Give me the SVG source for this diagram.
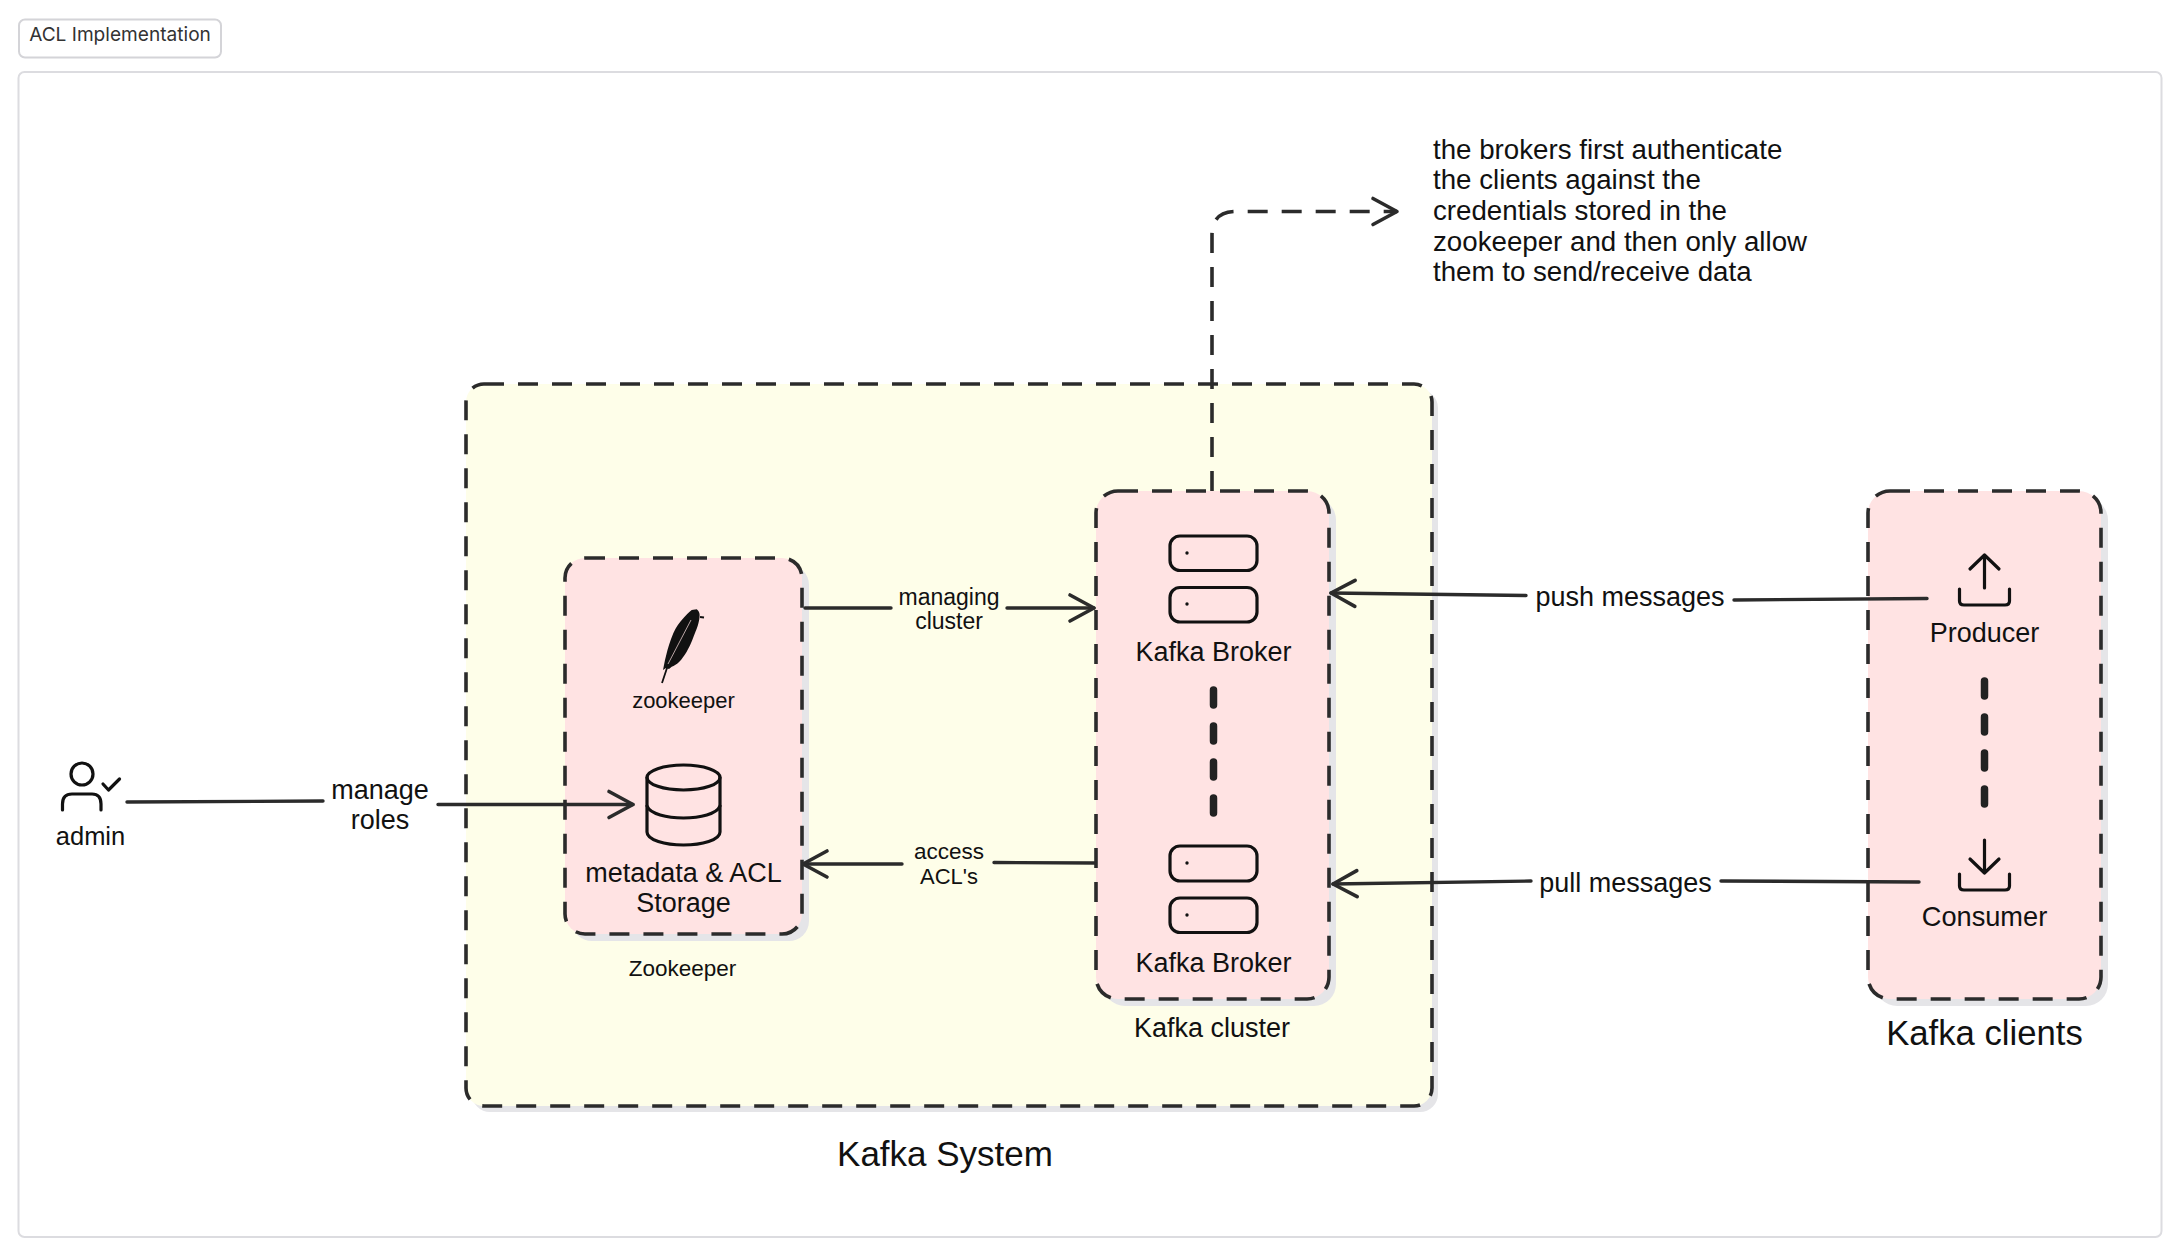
<svg xmlns="http://www.w3.org/2000/svg" width="2182" height="1256" viewBox="0 0 2182 1256">
<style>
text{font-family:"Liberation Sans",Arial,sans-serif;fill:#111;text-anchor:middle}
.shadow{fill:#e5e5e8}
.yellow{fill:#fefee9}
.pink{fill:#ffe3e3}
.dash{fill:none;stroke:#2b2b2b;stroke-width:3.6;stroke-dasharray:20 14;stroke-linecap:butt}
.ln{fill:none;stroke:#2b2b2b;stroke-width:3.4;stroke-linecap:round;stroke-linejoin:round}
.ico{fill:none;stroke:#111;stroke-width:3.2;stroke-linecap:round;stroke-linejoin:round}
.thick{fill:none;stroke:#222;stroke-width:7.500;stroke-dasharray:15 21;stroke-linecap:round}
.dot{fill:#111}
</style>
<defs>
<marker id="open" markerUnits="userSpaceOnUse" markerWidth="32" markerHeight="34" refX="28" refY="17" orient="auto" overflow="visible">
<path d="M4 4 L28 17 L4 30" fill="none" stroke="#2b2b2b" stroke-width="3.6" stroke-linecap="round" stroke-linejoin="round"/>
</marker>
</defs>
<rect width="2182" height="1256" fill="#fff"/>
<g id="title">
<rect x="19" y="19.500" width="202" height="38" rx="6" fill="#fff" stroke="#d4d4d8" stroke-width="2"/>
<text x="120" y="41" style="font-family:Inter,'Liberation Sans',sans-serif;fill:#333" font-size="19.100">ACL Implementation</text>
</g>
<rect id="frame" x="18.500" y="72" width="2143" height="1165" rx="6" fill="#fff" stroke="#dcdce0" stroke-width="2"/>

<g id="kafka-system">
<rect class="shadow" x="472" y="390" width="966" height="722" rx="18"/>
<rect class="yellow" x="466" y="384" width="966" height="722" rx="18"/>
<rect class="dash" x="466" y="384" width="966" height="722" rx="18"/>
<text x="945" y="1166" font-size="35">Kafka System</text>
</g>

<g id="zookeeper">
<rect class="shadow" x="572" y="565" width="237" height="376" rx="20"/>
<rect class="pink" x="565" y="558" width="237" height="376" rx="20"/>
<rect class="dash" x="565" y="558" width="237" height="376" rx="20"/>
<g id="feather">
<path class="dot" d="M696.700 609.300 C700 612 700 615 699.300 619 C698 626 697 628 695 633 C692 641 690 646 686.700 651.700 C684 656 682 659 679.300 661.700 C677 664 674 666 671.700 666.700 L669 669 L666 668 L663 670 L664 665 L665 660 L666 656 C668 648 670 641 673.300 633.300 C676 627 679 623 683.300 618.300 C686 615 689 612 691.700 610 Z"/>
<path d="M662 683 L668 665" fill="none" stroke="#111" stroke-width="1.800"/>
<path d="M668 664 L691 620" fill="none" stroke="#ffe3e3" stroke-width="0.700"/>
<path d="M700 617 L704 617.500" fill="none" stroke="#111" stroke-width="2"/>
</g>
<text x="683.500" y="707.500" font-size="22">zookeeper</text>
<g id="database" class="ico">
<ellipse cx="683.500" cy="777.500" rx="36.500" ry="12.500"/>
<path d="M647 777.500 V832 C647 840 665 845 683.500 845 C702 845 720 840 720 832 V777.500"/>
<path d="M647 806 C650 814 667 818 683.500 818 C700 818 717 814 720 806"/>
</g>
<text x="683.500" y="882" font-size="27">metadata &amp; ACL</text>
<text x="683.500" y="912" font-size="27">Storage</text>
<text x="682.500" y="976" font-size="22.500">Zookeeper</text>
</g>

<g id="kafka-cluster">
<rect class="shadow" x="1103" y="498" width="233" height="508" rx="22"/>
<rect class="pink" x="1096" y="491" width="233" height="508" rx="22"/>
<rect class="dash" x="1096" y="491" width="233" height="508" rx="22"/>
<g class="ico">
<rect x="1170" y="536" width="87" height="34.500" rx="10"/>
<rect x="1170" y="587.500" width="87" height="34.500" rx="10"/>
<rect x="1170" y="846" width="87" height="35" rx="10"/>
<rect x="1170" y="898" width="87" height="34.500" rx="10"/>
</g>
<circle class="dot" cx="1187" cy="553" r="1.700"/>
<circle class="dot" cx="1187" cy="604" r="1.700"/>
<circle class="dot" cx="1187" cy="863" r="1.700"/>
<circle class="dot" cx="1187" cy="915" r="1.700"/>
<text x="1213.500" y="661" font-size="27">Kafka Broker</text>
<path class="thick" d="M1213.500 690 V816"/>
<text x="1213.500" y="971.500" font-size="27">Kafka Broker</text>
<text x="1212" y="1037" font-size="27">Kafka cluster</text>
</g>

<g id="kafka-clients">
<rect class="shadow" x="1875" y="498" width="233" height="508" rx="22"/>
<rect class="pink" x="1868" y="491" width="233" height="508" rx="22"/>
<rect class="dash" x="1868" y="491" width="233" height="508" rx="22"/>
<g id="producer-icon" class="ico">
<path d="M1984.500 588 V555 M1970 569 L1984.500 555 L1999 569"/>
<path d="M1959.500 589 V601 Q1959.500 605 1964 605 H2005 Q2009.500 605 2009.500 601 V589"/>
</g>
<text x="1984.500" y="641.500" font-size="27">Producer</text>
<path class="thick" d="M1984.500 681 V806"/>
<g id="consumer-icon" class="ico">
<path d="M1984.500 840 V873 M1970 859 L1984.500 873 L1999 859"/>
<path d="M1959.500 874 V886 Q1959.500 890 1964 890 H2005 Q2009.500 890 2009.500 886 V874"/>
</g>
<text x="1984.500" y="926" font-size="27.200">Consumer</text>
<text x="1984.500" y="1044.500" font-size="34.700">Kafka clients</text>
</g>

<g id="admin">
<g class="ico">
<circle cx="82" cy="774" r="11"/>
<path d="M62.500 810 V804 Q62.500 794 72 794 H92 Q101 794 101 804 V810"/>
<path d="M103 784 L108.500 790 L119.500 779"/>
</g>
<text x="90.500" y="844.500" font-size="25.500">admin</text>
</g>

<g id="note">
<text x="1433" y="159" font-size="27.700" style="text-anchor:start">the brokers first authenticate</text>
<text x="1433" y="189" font-size="27.700" style="text-anchor:start">the clients against the</text>
<text x="1433" y="220" font-size="27.700" style="text-anchor:start">credentials stored in the</text>
<text x="1433" y="250.500" font-size="27.700" style="text-anchor:start">zookeeper and then only allow</text>
<text x="1433" y="281" font-size="27.700" style="text-anchor:start">them to send/receive data</text>
</g>

<g id="connectors">
<path class="ln" marker-end="url(#open)" d="M127 802 L323 801 M438 804.500 L633 804.500"/>
<path class="ln" marker-end="url(#open)" d="M805 608 L891 608 M1007 608 L1094 608"/>
<path class="ln" marker-end="url(#open)" d="M1095 863 L994 862.500 M902 864 L803 864"/>
<path class="ln" marker-end="url(#open)" d="M1927 598.500 L1734 600 M1526 595.500 L1331 593"/>
<path class="ln" marker-end="url(#open)" d="M1919 882 L1721 881 M1531 881 L1333 884"/>
<path class="dash" marker-end="url(#open)" d="M1212 491 V235 Q1212 212 1235 211.500 H1397"/>
</g>

<g id="connector-labels">
<text x="380" y="799" font-size="27">manage</text>
<text x="380" y="829" font-size="27">roles</text>
<text x="949" y="604.500" font-size="23">managing</text>
<text x="949" y="629" font-size="23">cluster</text>
<text x="949" y="859" font-size="22.500">access</text>
<text x="949" y="884" font-size="22">ACL's</text>
<text x="1630" y="605.500" font-size="27">push messages</text>
<text x="1625.500" y="892" font-size="27">pull messages</text>
</g>
</svg>
